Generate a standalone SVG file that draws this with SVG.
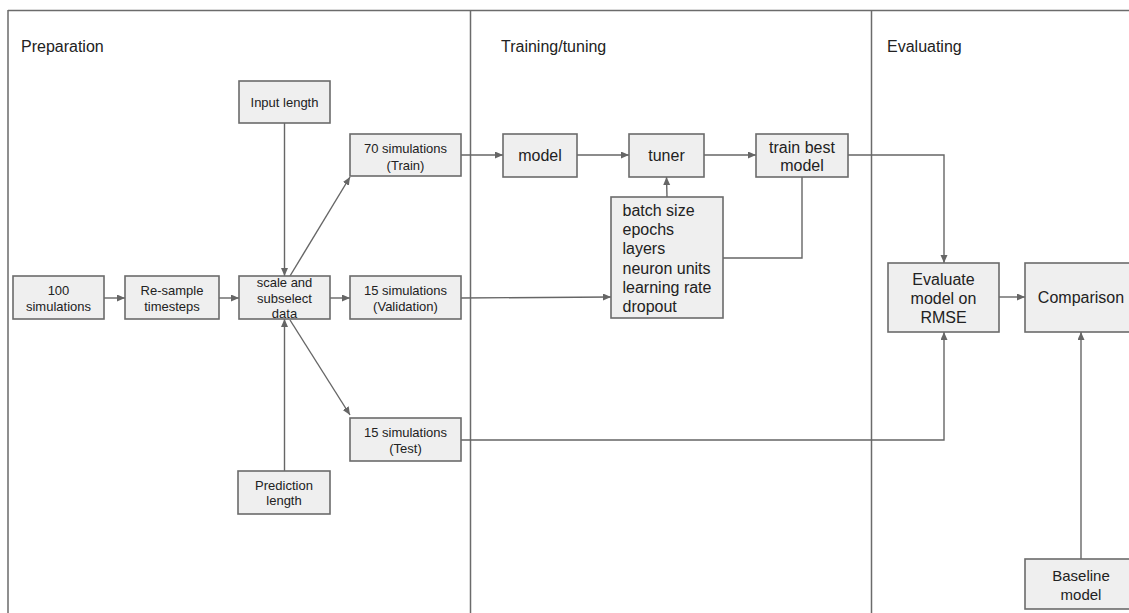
<svg xmlns="http://www.w3.org/2000/svg" width="1129" height="613" viewBox="0 0 1129 613">
<style>
.frame{stroke:#6b6b6b;stroke-width:1.5;fill:none}
.box{fill:#efefef;stroke:#6b6b6b;stroke-width:1.6}
.t{font-family:"Liberation Sans",Arial,sans-serif;fill:#222;text-anchor:middle;dominant-baseline:central}
.s{font-size:13px}
.m{font-size:16px}
.h{font-family:"Liberation Sans",Arial,sans-serif;fill:#222;font-size:16px}
.c{stroke:#666;stroke-width:1.4;fill:none}
.a{marker-end:url(#arr)}
</style>
<defs>
<marker id="arr" markerUnits="userSpaceOnUse" markerWidth="9" markerHeight="8" refX="8" refY="3.5" orient="auto">
<path d="M0,0 L8,3.5 L0,7 z" fill="#666"/>
</marker>
</defs>
<rect width="1129" height="613" fill="#fff"/>
<g id="frame">
<path class="frame" d="M8,10.5 H1129 M8,10 V613 M470.5,10 V613 M871.5,10 V613"/>
<text class="h" x="21" y="52">Preparation</text>
<text class="h" x="501" y="52">Training/tuning</text>
<text class="h" x="887" y="52">Evaluating</text>
</g>
<g id="connectors">
<path class="c a" d="M104,298 H125"/>
<path class="c a" d="M219,298 H239"/>
<path class="c a" d="M330,298 H350"/>
<path class="c a" d="M284.5,123 V276"/>
<path class="c a" d="M284.5,471 V319"/>
<path class="c a" d="M290,276 L350,177"/>
<path class="c a" d="M290,320 L350,415"/>
<path class="c a" d="M461,155 H503"/>
<path class="c a" d="M577,155 H629"/>
<path class="c a" d="M704,155 H756"/>
<path class="c a" d="M667,197 L666.5,177"/>
<path class="c" d="M802,177 V258 H723"/>
<path class="c a" d="M461,298 L611,297"/>
<path class="c a" d="M848,155 H944 V263"/>
<path class="c a" d="M461,440 H944 V332"/>
<path class="c a" d="M999,297 H1025"/>
<path class="c a" d="M1081,559 V332"/>
</g>
<g id="n100">
<rect class="box" x="13" y="276" width="91" height="43"/>
<text class="t s" x="58.5" y="290">100</text>
<text class="t s" x="58.5" y="306">simulations</text>
</g>
<g id="resample">
<rect class="box" x="125" y="276" width="94" height="43"/>
<text class="t s" x="172" y="290">Re-sample</text>
<text class="t s" x="172" y="306">timesteps</text>
</g>
<g id="scale">
<rect class="box" x="239" y="276" width="91" height="43"/>
<text class="t s" x="284.5" y="282">scale and</text>
<text class="t s" x="284.5" y="298">subselect</text>
<text class="t s" x="284.5" y="313">data</text>
</g>
<g id="input">
<rect class="box" x="239" y="81" width="91" height="42"/>
<text class="t s" x="284.5" y="102">Input length</text>
</g>
<g id="prediction">
<rect class="box" x="238" y="471" width="92" height="43"/>
<text class="t s" x="284" y="485">Prediction</text>
<text class="t s" x="284" y="500">length</text>
</g>
<g id="train">
<rect class="box" x="350" y="134" width="111" height="42"/>
<text class="t s" x="405.5" y="148">70 simulations</text>
<text class="t s" x="405.5" y="165">(Train)</text>
</g>
<g id="validation">
<rect class="box" x="350" y="276" width="111" height="43"/>
<text class="t s" x="405.5" y="290">15 simulations</text>
<text class="t s" x="405.5" y="306">(Validation)</text>
</g>
<g id="test">
<rect class="box" x="350" y="418" width="111" height="43"/>
<text class="t s" x="405.5" y="432">15 simulations</text>
<text class="t s" x="405.5" y="448">(Test)</text>
</g>
<g id="model">
<rect class="box" x="503" y="134" width="74" height="43"/>
<text class="t m" x="540" y="155.5">model</text>
</g>
<g id="tuner">
<rect class="box" x="629" y="134" width="75" height="43"/>
<text class="t m" x="666.5" y="155.5">tuner</text>
</g>
<g id="trainbest">
<rect class="box" x="756" y="134" width="92" height="43"/>
<text class="t m" x="802" y="147">train best</text>
<text class="t m" x="802" y="165.5">model</text>
</g>
<g id="hyper">
<rect class="box" x="611" y="197" width="112" height="121"/>
<text class="h" x="622.5" y="210" dominant-baseline="central">batch size</text>
<text class="h" x="622.5" y="229" dominant-baseline="central">epochs</text>
<text class="h" x="622.5" y="248" dominant-baseline="central">layers</text>
<text class="h" x="622.5" y="268" dominant-baseline="central">neuron units</text>
<text class="h" x="622.5" y="287" dominant-baseline="central">learning rate</text>
<text class="h" x="622.5" y="306" dominant-baseline="central">dropout</text>
</g>
<g id="evaluate">
<rect class="box" x="888" y="263" width="111" height="69"/>
<text class="t m" x="943.5" y="279.5">Evaluate</text>
<text class="t m" x="943.5" y="298.5">model on</text>
<text class="t m" x="943.5" y="317.5">RMSE</text>
</g>
<g id="comparison">
<rect class="box" x="1025" y="263" width="112" height="69"/>
<text class="t m" x="1081" y="297.5">Comparison</text>
</g>
<g id="baseline">
<rect class="box" x="1025" y="559" width="112" height="50"/>
<text class="t" x="1081" y="575.5" font-size="15">Baseline</text>
<text class="t" x="1081" y="594.5" font-size="15">model</text>
</g>
</svg>
